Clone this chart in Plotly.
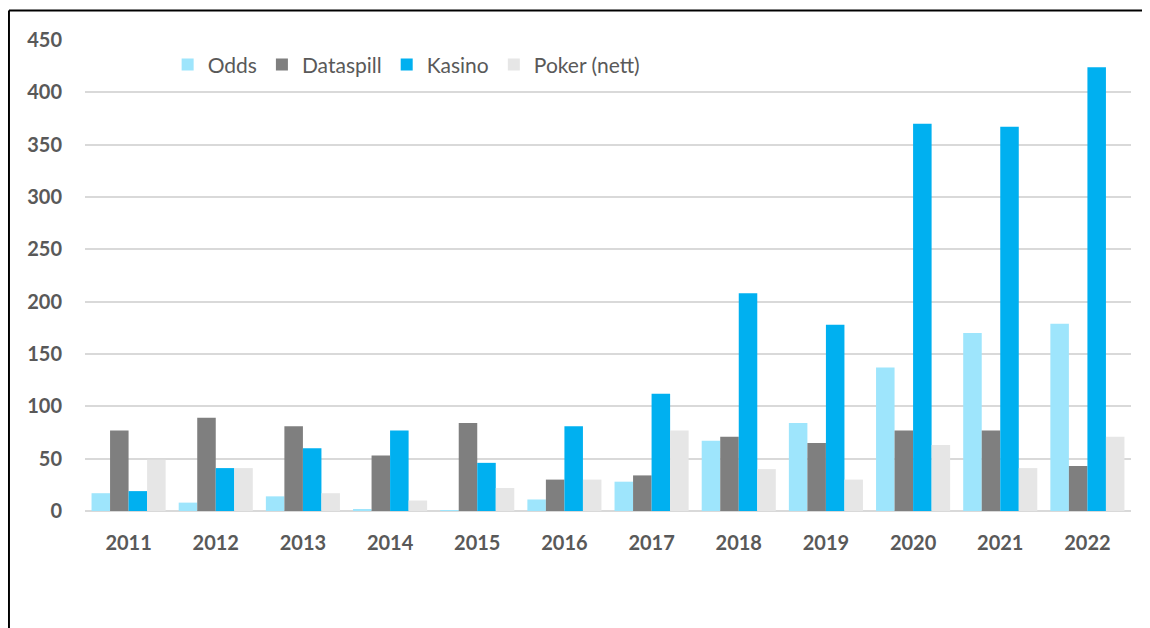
import plotly.graph_objects as go

years = ["2011", "2012", "2013", "2014", "2015", "2016", "2017", "2018", "2019", "2020", "2021", "2022"]
odds = [17, 8, 14, 1, 0.5, 11, 28, 67, 84, 137, 170, 179]
dataspill = [77, 89, 81, 53, 84, 30, 34, 71, 65, 77, 77, 43]
kasino = [19, 41, 60, 77, 46, 81, 112, 208, 178, 370, 367, 424]
poker = [49, 41, 17, 10, 22, 30, 77, 40, 30, 63, 41, 71]

series = [
    ("Odds", odds, "#9EE5FC"),
    ("Dataspill", dataspill, "#7F7F7F"),
    ("Kasino", kasino, "#00B0F0"),
    ("Poker (nett)", poker, "#E6E6E6"),
]

fig = go.Figure()
for name, vals, col in series:
    fig.add_trace(go.Bar(x=years, y=vals, name=name, marker=dict(color=col, line=dict(width=0))))

font_family = "Lato, 'Open Sans', sans-serif"
fig.update_layout(
    width=1150, height=628,
    margin=dict(l=77, r=27, t=32, b=125),
    paper_bgcolor="white", plot_bgcolor="white",
    barmode="group", bargap=0.15, bargroupgap=0,
    font=dict(family=font_family, color="#595959"),
    showlegend=True,
    legend=dict(orientation="h", x=0.079, xanchor="left", y=0.947, yanchor="middle",
                font=dict(size=21, color="#595959"), bgcolor="rgba(0,0,0,0)",
                itemsizing="constant", traceorder="normal"),
    xaxis=dict(type="category", showgrid=False, showline=False, ticks="",
               tickfont=dict(size=20, color="#595959", family=font_family, weight="bold"),
               ticklabelstandoff=18),
    yaxis=dict(range=[0, 450], dtick=50, showgrid=True, gridcolor="#D9D9D9", gridwidth=1.5,
               zeroline=True, zerolinecolor="#D9D9D9", zerolinewidth=1.5, showline=False, ticks="",
               tickfont=dict(size=20, color="#595959", family=font_family, weight="bold"),
               ticklabelstandoff=22),
    shapes=[
        dict(type="line", xref="paper", yref="paper", x0=-0.0727, x1=1.1, y0=1.0626, y1=1.0626,
             line=dict(color="black", width=2)),
        dict(type="line", xref="paper", yref="paper", x0=-0.0727, x1=-0.0727, y0=1.0626, y1=-0.4,
             line=dict(color="black", width=2)),
    ],
)

fig.write_html("out.html")
